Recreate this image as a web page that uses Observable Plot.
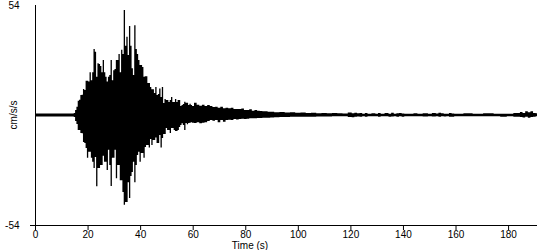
<!DOCTYPE html>
<html>
<head>
<meta charset="utf-8">
<script src="https://cdn.jsdelivr.net/npm/d3@7"></script>
<script src="https://cdn.jsdelivr.net/npm/@observablehq/plot@0.6"></script>
<style>
  html, body { margin: 0; padding: 0; background: white; }
</style>
</head>
<body>
<div id="chart"></div>
<script>
// Sample times (s) of the min/max envelope
const time = [
  0, 14.5,
  15, 15.5, 16, 16.5, 17, 17.5, 18, 18.5, 19, 19.5,
  20, 20.5, 21, 21.5, 22, 22.5, 23, 23.5, 24, 24.5,
  25, 25.5, 26, 26.5, 27, 27.5, 28, 28.5, 29, 29.5,
  30, 30.5, 31, 31.5, 32, 32.5, 33, 33.5, 34, 34.5,
  35, 35.5, 36, 36.5, 37, 37.5, 38, 38.5, 39, 39.5,
  40, 40.5, 41, 41.5, 42, 42.5, 43, 43.5, 44, 44.5,
  45, 45.5, 46, 46.5, 47, 47.5, 48, 48.5, 49, 49.5,
  50, 50.5, 51, 51.5, 52, 52.5, 53, 53.5, 54, 54.5,
  55, 55.5, 56, 56.5, 57, 57.5, 58, 58.5, 59, 59.5,
  60, 61, 62, 63, 64, 65, 66, 67, 68, 69,
  70, 71, 72, 73, 74, 75, 76, 77, 78, 79,
  80, 81, 82, 83, 84, 85, 86, 87, 88, 89,
  90, 92, 94, 96, 98, 100, 102, 104, 106, 108,
  110, 112, 114, 116, 118, 120, 121, 122, 123, 124,
  125, 126, 127, 129, 130, 131, 132, 134, 135, 136,
  137, 138, 139, 140, 141, 143, 145, 146, 149, 150,
  152, 153, 154, 155, 156, 157, 158, 159, 160, 166,
  167, 174, 175, 179, 180, 184, 185, 186, 187, 188,
  189, 190, 191
];
// Upper envelope (cm/s/s)
const upper = [
  0.7, 0.7,
  1, 2.5, 4, 7, 7.5, 9.8, 10, 12.8, 12.3, 16.8,
  16.8, 16.5, 21, 17, 21, 32.4, 31, 18.8, 25.4, 25,
  24, 21, 27, 21, 18.8, 16.4, 18.8, 19.6, 27, 17,
  22, 22.6, 27, 27, 30, 21, 32, 30, 51.5, 34,
  38.4, 29.5, 43.7, 34, 23, 19.6, 44, 32.4, 30, 27,
  24.5, 24.5, 23.6, 18.8, 19, 19, 15.7, 15.7, 13.7, 12.7,
  12.7, 10.8, 13.7, 9.8, 10.3, 13, 8.8, 13.7, 5.9, 7.8,
  7.4, 7.4, 6.4, 7.4, 8.8, 6.4, 6.4, 7.8, 6.4, 7.4,
  7.4, 4.4, 4.9, 5.4, 6.5, 6, 6, 4.9, 5.5, 4.9,
  4.4, 6, 5, 4.5, 5, 4.4, 4.9, 4.4, 3.9, 4,
  3.5, 4, 3.3, 3.5, 3.3, 3.5, 2.9, 3, 2.9, 3.2,
  2.5, 2.5, 2.8, 2.1, 2.4, 2.1, 2, 1.8, 1.8, 1.6,
  1.6, 1.4, 1.5, 1.2, 1.3, 1.1, 1.2, 1.0, 1.1, 0.9,
  1.0, 0.8, 1.0, 0.8, 0.7, 1.2, 0.9, 1.1, 0.8, 1.0,
  0.6, 1.0, 0.6, 0.9, 0.6, 1.0, 0.6, 1.0, 0.6, 1.1,
  0.6, 0.9, 1.0, 0.7, 0.6, 0.6, 0.9, 0.6, 0.9, 0.6,
  1.0, 0.7, 1.1, 0.8, 0.6, 0.6, 1.0, 0.7, 0.6, 0.9,
  0.6, 0.8, 0.6, 0.6, 0.6, 1.0, 1.5, 1.0, 1.8, 1.3,
  1.9, 1.0, 0.8
];
// Lower envelope (cm/s/s)
const lower = [
  -0.7, -0.7,
  -1, -3, -4.4, -7.4, -7.4, -8.8, -9, -13.3, -13.8, -16.2,
  -21, -18, -18, -21, -23, -26, -20.6, -35, -26, -26,
  -24.5, -24.5, -20, -23, -23, -27, -17, -24.5, -34.8, -21,
  -21, -17, -31, -24.5, -24.5, -32, -32, -37.8, -44, -42.7,
  -42.7, -33, -40.8, -30, -28, -23, -33, -24.5, -19.6, -18,
  -23, -18.7, -18.7, -21, -15.7, -14.7, -14.7, -16, -11.8, -14.7,
  -12.3, -12.3, -11, -13.8, -13.8, -9.8, -16, -11.3, -9.3, -9.3,
  -6.4, -7.4, -7.4, -8.8, -6.4, -6.4, -7.4, -7.9, -7.9, -7.4,
  -5.9, -4.9, -4.1, -4.9, -7.4, -3.9, -4.5, -3.9, -3.8, -3.5,
  -3.8, -3.9, -3.5, -4, -3.8, -3.5, -3, -2.5, -2.8, -2.5,
  -3.5, -2.5, -3.3, -2.5, -2.3, -2.5, -2, -2.2, -2, -1.8,
  -2, -1.8, -1.6, -1.6, -1.6, -1.5, -1.5, -1.4, -1.3, -1.3,
  -1.2, -1.1, -1.0, -1.0, -0.9, -0.9, -0.8, -0.8, -0.8, -0.7,
  -0.7, -0.7, -0.6, -0.6, -0.6, -1.0, -1.1, -0.8, -0.7, -0.9,
  -0.6, -0.9, -0.6, -0.6, -0.6, -0.8, -0.6, -0.6, -0.8, -0.7,
  -0.6, -0.8, -0.6, -0.9, -0.6, -0.6, -0.6, -0.6, -0.7, -0.6,
  -0.7, -0.6, -0.8, -0.6, -0.7, -0.6, -0.9, -0.9, -0.6, -0.6,
  -0.6, -0.6, -0.6, -0.8, -0.6, -0.8, -1.0, -1.2, -0.9, -1.4,
  -1.0, -0.8, -0.6
];
const xTicks = [0, 20, 40, 60, 80, 100, 120, 140, 160, 180];
const yTicks = [-54, 54];
const xLabel = "Time (s)";
const yLabel = "cm/s/s";

const data = time.map((t, i) => ({t, hi: upper[i], lo: lower[i]}));
const plainNum = d => (d < 0 ? "-" + Math.abs(d) : String(d));

const chart = Plot.plot({
  width: 550,
  height: 250,
  marginLeft: 35,
  marginRight: 13,
  marginTop: 5,
  marginBottom: 25,
  style: {fontFamily: "'Liberation Sans', Arial, sans-serif", fontSize: "10px", background: "white", color: "black"},
  x: {domain: [0, 191]},
  y: {domain: [-54, 54]},
  marks: [
    Plot.areaY(data, {x: "t", y1: "lo", y2: "hi", curve: "step", fill: "black"}),
    Plot.ruleX([0], {stroke: "black"}),
    Plot.ruleY([-54], {stroke: "black"}),
    Plot.axisX({ticks: xTicks, tickSize: 5, tickPadding: 0, label: null, stroke: "black", tickFormat: plainNum}),
    Plot.axisY({ticks: yTicks, tickSize: 0, tickPadding: 16, label: null, tickFormat: plainNum}),
    Plot.axisY({ticks: [-54], tickSize: 5, tickFormat: () => "", label: null, stroke: "black"})
  ]
});

const svg = d3.select(chart);
svg.append("text")
  .attr("x", 250).attr("y", 248.5)
  .attr("text-anchor", "middle")
  .attr("fill", "black")
  .text(xLabel);
svg.append("text")
  .attr("transform", "translate(13,115) rotate(-90)")
  .attr("text-anchor", "middle")
  .attr("dy", "0.35em")
  .attr("fill", "black")
  .text(yLabel);

document.getElementById("chart").appendChild(chart);
</script>
</body>
</html>
